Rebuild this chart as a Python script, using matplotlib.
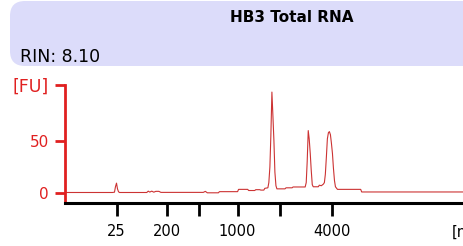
import matplotlib
matplotlib.use("Agg")
import matplotlib.pyplot as plt
from matplotlib.patches import FancyBboxPatch

# electropherogram trace (time in s, fluorescence in FU)
time_s = [18.0, 23.88, 24.13, 24.25, 24.38, 24.5, 24.63, 24.75,
          28.13, 28.31, 28.5, 28.75, 29.0, 29.25, 29.63, 29.88,
          35.13, 35.38, 35.63, 37.0, 37.13, 39.38, 39.5, 40.63, 40.75,
          41.5, 41.63, 42.13, 42.25, 42.63, 42.75, 43.13, 43.25, 43.38,
          43.5, 43.63, 43.75, 43.88, 44.0, 44.13, 44.25, 45.25, 45.38,
          46.13, 46.25, 47.75, 47.88, 48.0, 48.13, 48.25, 48.38, 48.5,
          48.63, 48.75, 49.38, 49.5, 49.75, 50.0, 50.13, 50.25, 50.38,
          50.5, 50.63, 50.75, 50.88, 51.0, 51.13, 51.25, 51.38, 51.5,
          51.75, 54.63, 54.75, 67.9]
fu = [0.5, 0.5, 0.8, 6, 9.5, 4, 1.2, 0.5,
      0.5, 1.8, 0.9, 1.8, 0.8, 1.6, 1.6, 0.6,
      0.6, 1.6, 0.2, 0.2, 1.3, 1.3, 3.5, 3.5, 2.4,
      2.4, 3.2, 3.2, 2.8, 2.8, 4.5, 5, 10, 25,
      55, 97, 75, 50, 20, 7, 4, 4, 5,
      5, 5.8, 5.8, 10, 30, 60, 52, 38, 22,
      8, 6, 6, 7.5, 7, 8.5, 10, 18, 35,
      52, 58, 59, 56, 48, 38, 24, 12, 6,
      3.5, 3.5, 1, 1]

# size ladder positions
tick_pos = [24.38, 30.63, 34.63, 39.38, 44.63, 51.13]
tick_labels = ["25", "200", "", "1000", "", "4000"]
title = "HB3 Total RNA"
rin = "RIN: 8.10"

fig = plt.figure(figsize=(4.64, 2.46), dpi=100)

# lavender header box, rounded on the left, running off the right edge
box = FancyBboxPatch((0.10 + 0.15, 1.80 + 0.15), 4.9, 0.65 - 0.30,
                     boxstyle="round,pad=0.15", transform=fig.dpi_scale_trans,
                     facecolor="#dcdcfa", edgecolor="none")
fig.patches.append(box)
fig.text(292 / 464, 1 - 18 / 246, title, ha="center", va="center",
         fontsize=11, fontweight="bold")
fig.text(20 / 464, 1 - 57 / 246, rin, ha="left", va="center", fontsize=12.5)

ax = fig.add_axes([65 / 464, 1 - 203 / 246, 1 - 65 / 464 + 0.01, 118 / 246])
ax.plot(time_s, fu, color="#cc3333", lw=0.8)
ax.set_xlim(18.0, 68.0)
ax.set_ylim(-9.6, 103.8)

ax.spines["top"].set_visible(False)
ax.spines["right"].set_visible(False)
ax.spines["left"].set_color("#e02020")
ax.spines["left"].set_linewidth(2)
ax.spines["bottom"].set_color("black")
ax.spines["bottom"].set_linewidth(2.2)

ax.set_yticks([0, 50, 103.8])
ax.set_yticklabels(["0", "50", "[FU]"])
ax.tick_params(axis="y", colors="#e02020", length=7.5, width=2, labelsize=11, pad=4)
ax.set_xticks(tick_pos)
ax.set_xticklabels(tick_labels)
ax.tick_params(axis="x", colors="black", length=9, width=2, labelsize=10.5, pad=6)
for lab in ax.get_yticklabels():
    lab.set_color("#e02020")
ax.get_yticklabels()[2].set_fontsize(12.5)

fig.text(452 / 464, 1 - 232 / 246, "[nt]", ha="left", va="center", fontsize=10.5)

fig.savefig("out.png", dpi=100)
